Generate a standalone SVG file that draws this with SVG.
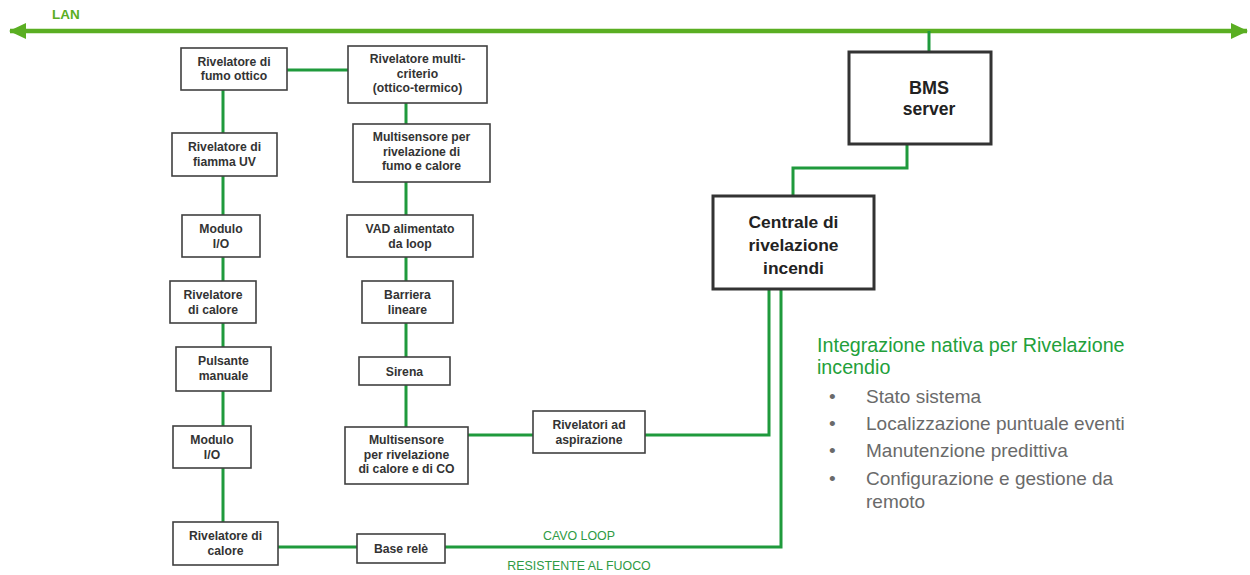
<svg xmlns="http://www.w3.org/2000/svg" width="1250" height="575" viewBox="0 0 1250 575">
  <defs>
    <marker id="lanHead" viewBox="0 0 17 16" refX="16" refY="8" markerWidth="17" markerHeight="16" orient="auto-start-reverse" markerUnits="userSpaceOnUse">
      <path d="M0,0 L17,8 L0,16 Z" fill="#5aae22"/>
    </marker>
    <style>
      .lan { stroke: #5aae22; stroke-width: 4.5; fill: none; }
      .wire { stroke: #1f9a3c; stroke-width: 3; fill: none; }
      .box rect { fill: #ffffff; stroke: #404040; stroke-width: 1.6; }
      .box text { font-family: "Liberation Sans", Arial, sans-serif; font-weight: bold; font-size: 12.2px; fill: #333333; text-anchor: middle; }
      .big rect { fill: #ffffff; stroke: #333333; stroke-width: 3; }
      .big text { font-family: "Liberation Sans", Arial, sans-serif; font-weight: bold; fill: #222222; text-anchor: middle; }
      .lbl { font-family: "Liberation Sans", Arial, sans-serif; font-size: 12.4px; fill: #2e9a44; text-anchor: middle; }
      .head { font-family: "Liberation Sans", Arial, sans-serif; font-size: 19.7px; fill: #22a03a; }
      .item { font-family: "Liberation Sans", Arial, sans-serif; font-size: 19px; fill: #6a6a6a; }
    </style>
  </defs>
  <rect width="1250" height="575" fill="#ffffff"/>

  <!-- LAN backbone -->
  <g id="lan">
    <text x="52" y="19" font-family="Liberation Sans, Arial, sans-serif" font-weight="bold" font-size="13.5px" fill="#5aae22">LAN</text>
    <line class="lan" x1="10" y1="31" x2="1247" y2="31" marker-start="url(#lanHead)" marker-end="url(#lanHead)"/>
  </g>

  <!-- wiring -->
  <g id="connectors">
    <line class="wire" x1="929" y1="31" x2="929" y2="51"/>
    <polyline class="wire" points="907,144 907,168 793,168 793,196"/>
    <line class="wire" x1="223" y1="90" x2="223" y2="522"/>
    <line class="wire" x1="287" y1="70" x2="348" y2="70"/>
    <line class="wire" x1="406" y1="103" x2="406" y2="427"/>
    <line class="wire" x1="468" y1="435" x2="533" y2="435"/>
    <polyline class="wire" points="645,435 769,435 769,289"/>
    <line class="wire" x1="278" y1="547" x2="357" y2="547"/>
    <polyline class="wire" points="445,547 781,547 781,289"/>
    <text class="lbl" x="579" y="540">CAVO LOOP</text>
    <text class="lbl" x="579" y="570">RESISTENTE AL FUOCO</text>
  </g>

  <!-- loop devices, left branch -->
  <g id="fumo-ottico" class="box">
    <rect x="181" y="48" width="106" height="42"/>
    <text x="234" y="66">Rivelatore di</text>
    <text x="234" y="80">fumo ottico</text>
  </g>
  <g id="fiamma-uv" class="box">
    <rect x="172" y="133" width="105" height="43"/>
    <text x="224.5" y="151">Rivelatore di</text>
    <text x="224.5" y="165.5">fiamma UV</text>
  </g>
  <g id="modulo-io-1" class="box">
    <rect x="182" y="215" width="78" height="42"/>
    <text x="221" y="233">Modulo</text>
    <text x="221" y="247.5">I/O</text>
  </g>
  <g id="calore-1" class="box">
    <rect x="170" y="281" width="86" height="42"/>
    <text x="213" y="299">Rivelatore</text>
    <text x="213" y="313.5">di calore</text>
  </g>
  <g id="pulsante" class="box">
    <rect x="176" y="347" width="95" height="44"/>
    <text x="223.5" y="365">Pulsante</text>
    <text x="223.5" y="380">manuale</text>
  </g>
  <g id="modulo-io-2" class="box">
    <rect x="173" y="426" width="78" height="42"/>
    <text x="212" y="444">Modulo</text>
    <text x="212" y="458.5">I/O</text>
  </g>
  <g id="calore-2" class="box">
    <rect x="173" y="522" width="105" height="43"/>
    <text x="225.5" y="540">Rivelatore di</text>
    <text x="225.5" y="554.5">calore</text>
  </g>
  <g id="base-rele" class="box">
    <rect x="357" y="534" width="88" height="29"/>
    <text x="401" y="552.5">Base relè</text>
  </g>

  <!-- loop devices, middle branch -->
  <g id="multicriterio" class="box">
    <rect x="348" y="46" width="139" height="57"/>
    <text x="417.5" y="63">Rivelatore multi-</text>
    <text x="417.5" y="77.5">criterio</text>
    <text x="417.5" y="92">(ottico-termico)</text>
  </g>
  <g id="multisensore-fumo" class="box">
    <rect x="353" y="124" width="137" height="58"/>
    <text x="421.5" y="141">Multisensore per</text>
    <text x="421.5" y="155.5">rivelazione di</text>
    <text x="421.5" y="170">fumo e calore</text>
  </g>
  <g id="vad" class="box">
    <rect x="347" y="215" width="126" height="42"/>
    <text x="410" y="233">VAD alimentato</text>
    <text x="410" y="247.5">da loop</text>
  </g>
  <g id="barriera" class="box">
    <rect x="362" y="281" width="91" height="42"/>
    <text x="407.5" y="299">Barriera</text>
    <text x="407.5" y="313.5">lineare</text>
  </g>
  <g id="sirena" class="box">
    <rect x="359" y="357" width="91" height="28"/>
    <text x="404.5" y="375.5">Sirena</text>
  </g>
  <g id="multisensore-co" class="box">
    <rect x="345" y="427" width="123" height="57"/>
    <text x="406.5" y="444">Multisensore</text>
    <text x="406.5" y="458.5">per rivelazione</text>
    <text x="406.5" y="473">di calore e di CO</text>
  </g>
  <g id="aspirazione" class="box">
    <rect x="533" y="411" width="112" height="42"/>
    <text x="589" y="429">Rivelatori ad</text>
    <text x="589" y="443.5">aspirazione</text>
  </g>

  <!-- supervision -->
  <g id="bms-server" class="big">
    <rect x="849" y="52" width="142" height="92"/>
    <text x="929" y="94" font-size="18px">BMS</text>
    <text x="929" y="115" font-size="17.5px">server</text>
  </g>
  <g id="centrale" class="big">
    <rect x="713" y="196" width="161" height="93"/>
    <text x="793.5" y="228" font-size="17.4px">Centrale di</text>
    <text x="793.5" y="251" font-size="17.4px">rivelazione</text>
    <text x="793.5" y="274" font-size="17.4px">incendi</text>
  </g>

  <!-- feature list -->
  <g id="features">
    <text class="head" x="817" y="352">Integrazione nativa per Rivelazione</text>
    <text class="head" x="817" y="374">incendio</text>
    <text class="item" x="829" y="403">•</text>
    <text class="item" x="866" y="403">Stato sistema</text>
    <text class="item" x="829" y="430">•</text>
    <text class="item" x="866" y="430">Localizzazione puntuale eventi</text>
    <text class="item" x="829" y="457">•</text>
    <text class="item" x="866" y="457">Manutenzione predittiva</text>
    <text class="item" x="829" y="485">•</text>
    <text class="item" x="866" y="485">Configurazione e gestione da</text>
    <text class="item" x="866" y="508">remoto</text>
  </g>
</svg>
